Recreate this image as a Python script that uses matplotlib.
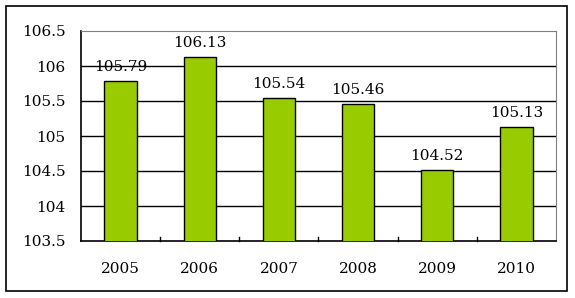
import matplotlib
matplotlib.use("Agg")
import matplotlib.pyplot as plt
from matplotlib.patches import Rectangle

years = ["2005", "2006", "2007", "2008", "2009", "2010"]
values = [105.79, 106.13, 105.54, 105.46, 104.52, 105.13]
yticks = [103.5, 104, 104.5, 105, 105.5, 106, 106.5]
ytick_labels = ["103.5", "104", "104.5", "105", "105.5", "106", "106.5"]

W, H = 575, 298
fig = plt.figure(figsize=(W / 100, H / 100), dpi=100)
font = "DejaVu Serif"
fs = 11

# outer border
fig.patches.append(Rectangle((6 / W, 1 - 291 / H), (567 - 6) / W, (291 - 6) / H,
                             transform=fig.transFigure, fill=False,
                             edgecolor="black", linewidth=1.2))

left, right, top, bottom = 81, 556, 31, 241
ax = fig.add_axes([left / W, 1 - bottom / H, (right - left) / W, (bottom - top) / H])

x = list(range(len(years)))
ax.bar(x, values, width=0.41, bottom=0, color="#99CC00", edgecolor="black",
       linewidth=1.0, zorder=3)
ax.set_xlim(-0.5, len(years) - 0.5)
ax.set_ylim(103.5, 106.5)
ax.set_yticks(yticks)
ax.set_yticklabels(ytick_labels, fontfamily=font, fontsize=fs)
ax.set_xticks(x)
ax.set_xticklabels(years, fontfamily=font, fontsize=fs)
ax.tick_params(axis="x", length=0, pad=15)
ax.tick_params(axis="y", length=0, pad=11)
# category separator ticks
for b in [i + 0.5 for i in range(len(years) - 1)]:
    ax.plot([b, b], [103.5, 103.5 + 0.06], color="black", lw=1.0, zorder=4,
            clip_on=False)
for t in yticks[1:-1]:
    ax.axhline(t, color="black", lw=1.0, zorder=1)

for s in ["top", "right"]:
    ax.spines[s].set_color("#808080")
for s in ["left", "bottom"]:
    ax.spines[s].set_color("black")
    ax.spines[s].set_linewidth(1.2)

for xi, v in zip(x, values):
    ax.annotate(f"{v:.2f}", (xi, v), xytext=(0, 5), textcoords="offset points",
                ha="center", va="bottom", fontfamily=font, fontsize=fs, zorder=5)

fig.savefig("out.png", dpi=100)
